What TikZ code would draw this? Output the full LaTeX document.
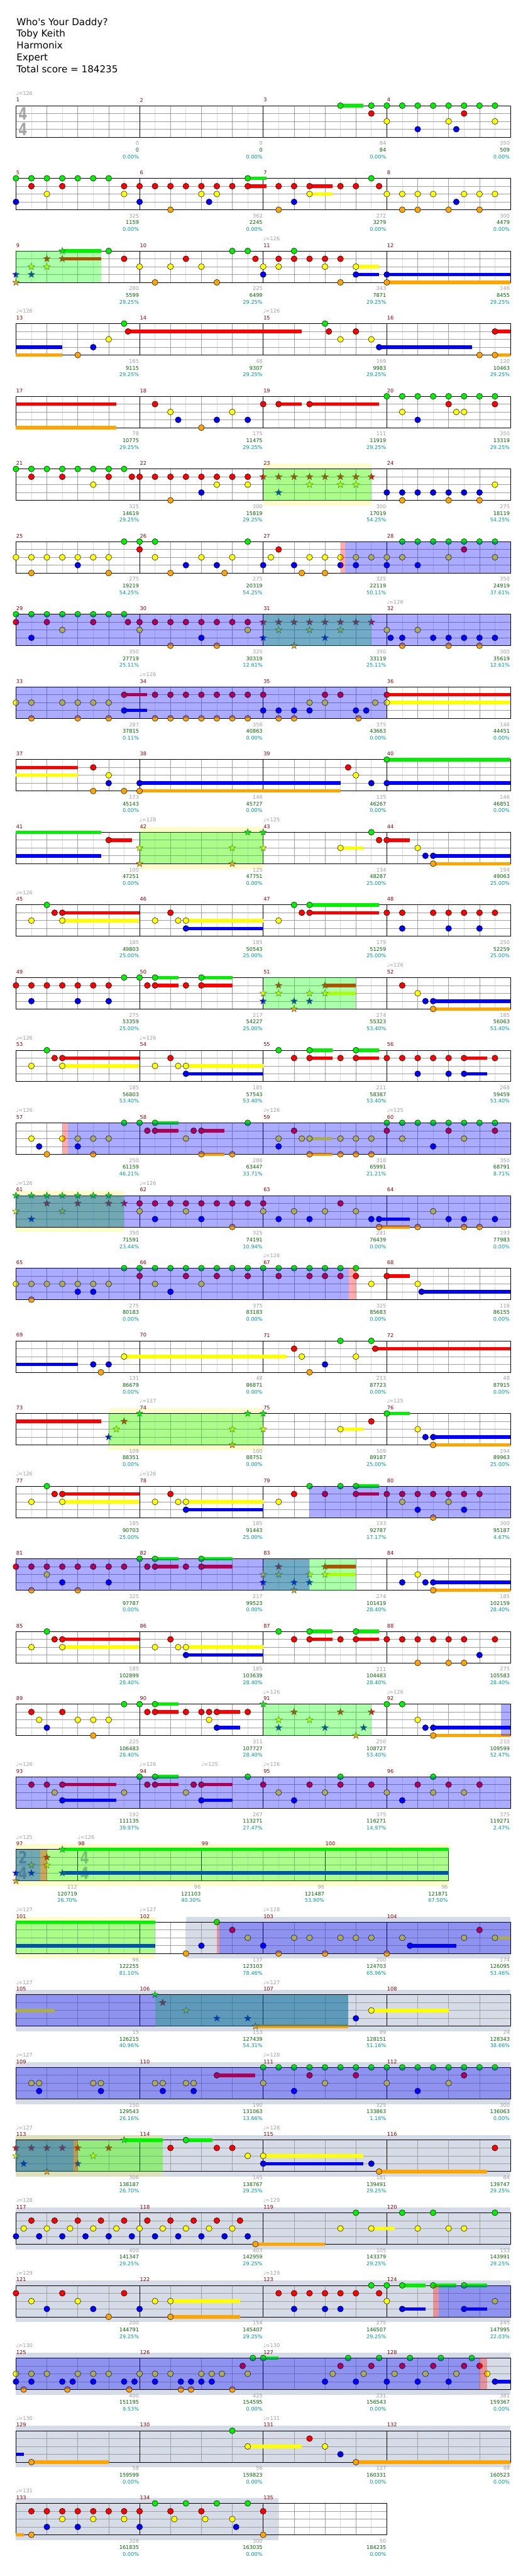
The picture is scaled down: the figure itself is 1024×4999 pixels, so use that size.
\documentclass[tikz,border=0pt]{standalone}
\usepackage{fontspec}
\setmainfont{DejaVu Sans}[Ligatures=TeXOff]
\usetikzlibrary{shapes.geometric}
\definecolor{ln0}{RGB}{0,240,0}
\definecolor{ln1}{RGB}{255,0,0}
\definecolor{ln2}{RGB}{255,255,0}
\definecolor{ln3}{RGB}{0,0,255}
\definecolor{ln4}{RGB}{255,165,0}
\definecolor{mred}{RGB}{139,0,0}
\definecolor{sgray}{RGB}{160,160,160}
\definecolor{sgreen}{RGB}{0,100,0}
\definecolor{steal}{RGB}{0,153,153}
\definecolor{solo}{RGB}{213,220,232}
\definecolor{halfc}{RGB}{220,220,220}
\definecolor{beatc}{RGB}{160,160,160}
\tikzstyle{nt}=[shape=circle, minimum size=11.5pt, inner sep=0, draw=black, line width=.6pt]
\tikzstyle{spn}=[shape=star, star points=5, star point ratio=2.4, minimum size=14pt, inner sep=0, draw=black!70, line width=.5pt]
\tikzstyle{halfl}=[halfc, line width=.8pt]
\tikzstyle{beatl}=[beatc, line width=.8pt]
\tikzstyle{barl}=[black, line width=.9pt]
\tikzstyle{mlab}=[anchor=west, inner sep=0, xshift=.5pt, text=mred, font=\fontsize{10}{12}\selectfont]
\tikzstyle{tlab}=[anchor=west, inner sep=0, text=sgray, font=\fontsize{10}{12}\selectfont]
\tikzstyle{slab}=[anchor=east, inner sep=0, xshift=-1pt, font=\fontsize{10}{12}\selectfont]
\tikzstyle{tsg}=[inner sep=0, text=black!35, xscale=.75, font=\fontsize{33}{33}\selectfont\bfseries]
\tikzstyle{ttl}=[anchor=base west, inner sep=0, font=\fontsize{18.5}{22}\selectfont]
\newcounter{nn}
\newdimen\rowy
\newcommand{\rowat}[1]{\global\rowy=-\numexpr205+141*#1\relax pt}
\newcommand{\staff}[2]{\pgfmathtruncatemacro\se{#1-1}%
 \foreach \i in {1,...,\se}{\ifodd\i\relax \draw[halfl] (\i,0)--(\i,4); \else \draw[beatl] (\i,0)--(\i,4); \fi}%
 \foreach \l in {1,2,3}{\draw[beatl] (0,\l)--(#1,\l);}%
 \foreach \b in {#2}{\draw[barl] (\b,0)--(\b,4);}%
 \draw[barl] (0,0) rectangle (#1,4);}
\newcommand{\nts}[2]{\foreach \p in {#2}{\stepcounter{nn}\node at (\p,#1)[nt, fill=ln#1](n\arabic{nn}){};}}
\newcommand{\sts}[2]{\foreach \p in {#2}{\stepcounter{nn}\node at (\p,#1)[spn, fill=ln#1](s\arabic{nn}){};}}
\newcommand{\susn}[3]{\fill[ln#1] ({#2},{#1-.22}) rectangle ({#3},{#1+.22});}
\newcommand{\spa}[2]{\fill[green, fill opacity=.33] (#1,0) rectangle (#2,4);}
\newcommand{\act}[2]{\fill[blue, fill opacity=.33] (#1,0) rectangle (#2,4);}
\newcommand{\pnk}[2]{\fill[red, fill opacity=.33] (#1,0) rectangle (#2,4);}
\newcommand{\sband}[2]{\fill[solo] (#1,-.66) rectangle (#2,4.66);}
\newcommand{\yband}[2]{\fill[yellow, fill opacity=.2] (#1,-.66) rectangle (#2,4.66);}
\newcommand{\tsig}[3]{\stepcounter{nn}\node at ({#1+.45},1)[tsg](g\arabic{nn}){#2};\node at ({#1+.45},3)[tsg](h\arabic{nn}){#3};}
\newcommand{\mnum}[2]{\stepcounter{nn}\node at (#1,-.72)[mlab](m\arabic{nn}){#2};}
\newcommand{\mnums}[1]{\foreach \k in {0,1,2,3}{\pgfmathtruncatemacro\mm{#1+\k}\mnum{8*\k}{\mm}}}
\newcommand{\bpm}[2]{\stepcounter{nn}\node at (#1,-1.57)[tlab](q\arabic{nn}){♩=#2};}
\newcommand{\scr}[4]{\stepcounter{nn}\node at (#1,4.79)[slab, text=sgray](a\arabic{nn}){#2};\node at (#1,5.64)[slab, text=sgreen](b\arabic{nn}){#3};\node at (#1,6.49)[slab, text=steal](c\arabic{nn}){#4\%};}

\begin{document}
\begin{tikzpicture}[x=1pt,y=-1pt]
\useasboundingbox (0,0) rectangle (1024,4999);
\fill[white] (0,0) rectangle (1024,4999);
\node at (32,49)[ttl](song){Who's Your Daddy?};
\node at (32,72)[ttl](artist){Toby Keith};
\node at (32,95)[ttl](charter){Harmonix};
\node at (32,118)[ttl](diff){Expert};
\node at (32,141)[ttl](total){Total score = 184235};

\rowat{0}
\begin{scope}[shift={(31pt,\rowy)},x=30pt,y=-15.25pt]
\staff{32}{0,8,16,24,32}
\tsig{0}{4}{4}
\susn{0}{21}{22.5}
\nts{0}{21,23,24,25,26,27,28,29,30,31}
\nts{1}{23,29}
\nts{2}{24,28,31}
\nts{3}{26,28.5}
\mnums{1}\bpm{0}{126}
\scr{8}{0}{0}{0.00}\scr{16}{0}{0}{0.00}\scr{24}{84}{84}{0.00}\scr{32}{350}{509}{0.00}
\end{scope}

\rowat{1}
\begin{scope}[shift={(31pt,\rowy)},x=30pt,y=-15.25pt]
\staff{32}{0,8,16,24,32}
\susn{0}{15}{16.2}\susn{1}{15}{16.2}\susn{1}{19}{20.5}\susn{2}{19}{20.5}
\nts{0}{0,1,2,3,4,5,6,15,23}
\nts{1}{1,3,7,8,9,10,11,12,13,14,15,17,18,19,21,22,23.5}
\nts{2}{2,7,12,13,19,24,25,26,27,29,30,31}
\nts{3}{0,8,12.5,18,28.5}
\nts{4}{10,17,25,26,28,30}
\mnums{5}
\scr{8}{325}{1159}{0.00}\scr{16}{362}{2245}{0.00}\scr{24}{272}{3279}{0.00}\scr{32}{300}{4479}{0.00}
\end{scope}

\rowat{2}
\begin{scope}[shift={(31pt,\rowy)},x=30pt,y=-15.25pt]
\staff{32}{0,8,16,24,32}
\susn{0}{3}{5.5}\susn{1}{3}{5.5}\susn{2}{22}{23.5}\susn{3}{22}{23.5}\susn{3}{24}{32}\susn{4}{24}{32}
\sts{0}{3}\sts{1}{2,3}\sts{2}{1,2}\sts{3}{0,1}\sts{4}{0}
\nts{0}{6,14,15,18}
\nts{1}{7,11,15.5,17,18,19,20,21}
\nts{2}{8,10,12,16,17,20,22}
\nts{3}{16,22,24}
\nts{4}{9,13,21,24}
\spa{0}{5.5}
\mnums{9}\bpm{16}{126}
\scr{8}{280}{5599}{29.25}\scr{16}{225}{6499}{29.25}\scr{24}{343}{7871}{29.25}\scr{32}{146}{8455}{29.25}
\end{scope}

\rowat{3}
\begin{scope}[shift={(31pt,\rowy)},x=30pt,y=-15.25pt]
\staff{32}{0,8,16,24,32}
\susn{3}{0}{3}\susn{4}{0}{3}\susn{1}{7.25}{18.5}\susn{3}{23.5}{29.5}\susn{4}{31}{32}\susn{1}{31}{32}
\nts{0}{7,20}
\nts{1}{7.25,20.25,22,31}
\nts{2}{6,21,23}
\nts{3}{5,23.5}
\nts{4}{4,30,31}
\mnums{13}\bpm{0}{126}\bpm{16}{126}
\scr{8}{165}{9115}{29.25}\scr{16}{48}{9307}{29.25}\scr{24}{169}{9983}{29.25}\scr{32}{120}{10463}{29.25}
\end{scope}

\rowat{4}
\begin{scope}[shift={(31pt,\rowy)},x=30pt,y=-15.25pt]
\staff{32}{0,8,16,24,32}
\susn{1}{0}{6.5}\susn{4}{0}{6.5}\susn{1}{17}{18.5}\susn{1}{19}{23.5}
\nts{0}{24,25,26,27,28,29,30,31}
\nts{1}{9,16,17,19,28,31}
\nts{2}{10,14,25,28.5,29}
\nts{3}{10.5,13,15,26}
\nts{4}{12}
\mnums{17}
\scr{8}{78}{10775}{29.25}\scr{16}{175}{11475}{29.25}\scr{24}{111}{11919}{29.25}\scr{32}{350}{13319}{29.25}
\end{scope}

\rowat{5}
\begin{scope}[shift={(31pt,\rowy)},x=30pt,y=-15.25pt]
\yband{16}{23}
\staff{32}{0,8,16,24,32}
\nts{0}{0,1,2,3,4,5,6,7}
\nts{1}{1,3,6,7.5,8,9,10,11,12,13,14,15}\sts{1}{16,17,18,19,20,21,22,23}
\nts{2}{5,13,15,31}\sts{2}{19,21,22}
\nts{3}{12,24,25,26,27,28,29,30}\sts{3}{17}
\nts{4}{10,25,28,30}
\spa{16}{23}
\mnums{21}
\scr{8}{325}{14619}{29.25}\scr{16}{300}{15819}{29.25}\scr{24}{300}{17019}{54.25}\scr{32}{275}{18119}{54.25}
\end{scope}

\rowat{6}
\begin{scope}[shift={(31pt,\rowy)},x=30pt,y=-15.25pt]
\staff{32}{0,8,16,24,32}
\nts{0}{7,8,9,15,25,26,27,28,29,30,31}
\nts{1}{8,17,29}
\nts{2}{0,1,2,3,4,5,6,9,12,14,16.5,19,20,21,22,23,24,25,28,31}
\nts{3}{4,11,13,16,18,21,22,24,26}
\nts{4}{1,6,10,13.5,18.5,20}
\pnk{21}{21.3}\act{21.3}{32}
\mnums{25}
\scr{8}{275}{19219}{54.25}\scr{16}{275}{20319}{54.25}\scr{24}{325}{22119}{50.11}\scr{32}{350}{24919}{37.61}
\end{scope}

\rowat{7}
\begin{scope}[shift={(31pt,\rowy)},x=30pt,y=-15.25pt]
\staff{32}{0,8,16,24,32}
\nts{0}{0,1,2,3,4,5,6,7}
\nts{1}{0,2,5,7.25,8,9,10,11,12,13,14,15}\sts{1}{16,17,18,19,20,21,22,23}
\nts{2}{3,8,15,24,26}\sts{2}{17,19,21}
\nts{3}{1,12,24.25,25,27,28,29,30,31}\sts{3}{16,20}
\nts{4}{10,13,25,28,30}\sts{4}{18}
\spa{16}{23}\act{0}{32}
\mnums{29}\bpm{24}{126}
\scr{8}{350}{27719}{25.11}\scr{16}{325}{30319}{12.61}\scr{24}{350}{33119}{25.11}\scr{32}{300}{35619}{12.61}
\end{scope}

\rowat{8}
\begin{scope}[shift={(31pt,\rowy)},x=30pt,y=-15.25pt]
\staff{32}{0,8,16,24,32}
\susn{1}{7}{8.5}\susn{3}{7}{8.5}\susn{1}{24}{32}\susn{2}{24}{32}
\nts{1}{7,9,10,11,12,13,14,15,16,20,21,24}
\nts{2}{0,1,3,4,5,6,19,20,23.25,24}
\nts{3}{7,16,17,18,19,22,22.67}
\nts{4}{1,4,6,9,10,11,12,13,14,15,17,18,22.17}
\act{0}{24}
\mnums{33}\bpm{8}{126}
\scr{8}{287}{37815}{0.11}\scr{16}{356}{40863}{0.00}\scr{24}{375}{43663}{0.00}\scr{32}{146}{44451}{0.00}
\end{scope}

\rowat{9}
\begin{scope}[shift={(31pt,\rowy)},x=30pt,y=-15.25pt]
\staff{32}{0,8,16,24,32}
\susn{1}{0}{4}\susn{2}{0}{4}\susn{4}{8}{21}\susn{3}{8}{21}\susn{0}{24}{32}\susn{3}{24}{32}
\nts{0}{24}
\nts{1}{5,21.5}
\nts{2}{6,22}
\nts{3}{6,8,23,24}
\nts{4}{5,7,8}
\mnums{37}
\scr{8}{173}{45143}{0.00}\scr{16}{146}{45727}{0.00}\scr{24}{135}{46267}{0.00}\scr{32}{146}{46851}{0.00}
\end{scope}

\rowat{10}
\begin{scope}[shift={(31pt,\rowy)},x=30pt,y=-15.25pt]
\yband{8}{16}
\staff{32}{0,8,16,24,32}
\susn{0}{0}{5.5}\susn{3}{0}{5.5}\susn{1}{6}{7.5}\susn{2}{21}{22.5}\susn{1}{24}{25.5}\susn{3}{27}{32}\susn{4}{27}{32}
\sts{0}{15,16}\sts{2}{8,14,16}\sts{4}{8,14}
\nts{0}{23}
\nts{1}{6,23.5,24}
\nts{2}{21,26}
\nts{3}{26.5,27}
\nts{4}{27}
\spa{8}{16}
\mnums{41}\bpm{8}{128}\bpm{16}{125}
\scr{8}{100}{47251}{0.00}\scr{16}{125}{47751}{0.00}\scr{24}{134}{48287}{25.00}\scr{32}{194}{49063}{25.00}
\end{scope}

\rowat{11}
\begin{scope}[shift={(31pt,\rowy)},x=30pt,y=-15.25pt]
\staff{32}{0,8,16,24,32}
\susn{1}{3}{8}\susn{2}{3}{8}\susn{2}{11}{16}\susn{3}{11}{16}\susn{0}{19}{23.5}\susn{1}{19}{23.5}
\nts{0}{2,18,19}
\nts{1}{2.5,3,10,18.5,19,24,25,27,28,29,30,31}
\nts{2}{1,3,9,10.5,11,17}
\nts{3}{11,25,28,30}
\mnums{45}\bpm{0}{126}
\scr{8}{185}{49803}{25.00}\scr{16}{185}{50543}{25.00}\scr{24}{179}{51259}{25.00}\scr{32}{250}{52259}{25.00}
\end{scope}

\rowat{12}
\begin{scope}[shift={(31pt,\rowy)},x=30pt,y=-15.25pt]
\staff{32}{0,8,16,24,32}
\susn{0}{9}{10.5}\susn{0}{12}{14}\susn{1}{9}{10.5}\susn{1}{12}{14}\susn{1}{20}{22}\susn{2}{20}{22}\susn{3}{27}{32}\susn{4}{27}{32}
\nts{0}{7,8,9,12}
\nts{1}{0,1,2,3,4,5,6,8.5,9,11,12,25}\sts{1}{17,20}
\nts{2}{26}\sts{2}{16,17,19,20}
\nts{3}{1,4,6,26.5,27}\sts{3}{16,18,19}
\nts{4}{27}\sts{4}{18}
\spa{16}{22}
\mnums{49}\bpm{24}{126}
\scr{8}{275}{53359}{25.00}\scr{16}{217}{54227}{25.00}\scr{24}{274}{55323}{53.40}\scr{32}{185}{56063}{53.40}
\end{scope}

\rowat{13}
\begin{scope}[shift={(31pt,\rowy)},x=30pt,y=-15.25pt]
\staff{32}{0,8,16,24,32}
\susn{1}{3}{8}\susn{2}{3}{8}\susn{2}{11}{16}\susn{3}{11}{16}\susn{0}{19}{20.5}\susn{0}{22}{23.5}\susn{1}{19}{20.5}\susn{1}{22}{23.5}\susn{1}{29}{30.5}\susn{3}{29}{30.5}
\nts{0}{2,17,19,22}
\nts{1}{2.5,3,10,18,19,21,22,24,25,26,27,28,29,31}
\nts{2}{1,3,9,10.5,11}
\nts{3}{11,26,28,29}
\mnums{53}\bpm{0}{126}\bpm{8}{126}
\scr{8}{185}{56803}{53.40}\scr{16}{185}{57543}{53.40}\scr{24}{211}{58387}{53.40}\scr{32}{268}{59459}{53.40}
\end{scope}

\rowat{14}
\begin{scope}[shift={(31pt,\rowy)},x=30pt,y=-15.25pt]
\staff{32}{0,8,16,24,32}
\susn{0}{9}{10.5}\susn{1}{9}{10.5}\susn{1}{12}{13.5}\susn{4}{12}{13.5}\susn{2}{19}{20.5}\susn{4}{19}{20.5}
\nts{0}{7,8,9,15,24,25,26,27,28,29,30,31}
\nts{1}{8.5,9,11.5,12,18,24,28,31}
\nts{2}{1,3,4,5,6,11,17,18.5,19,21,22,23,25,29}
\nts{3}{1.5,4,17,27}
\nts{4}{2,5,12,14,19,21,22,23}
\pnk{3}{3.35}\act{3.35}{32}
\mnums{57}\bpm{0}{126}\bpm{16}{126}\bpm{24}{125}
\scr{8}{250}{61159}{46.21}\scr{16}{286}{63447}{33.71}\scr{24}{318}{65991}{21.21}\scr{32}{350}{68791}{8.71}
\end{scope}

\rowat{15}
\begin{scope}[shift={(31pt,\rowy)},x=30pt,y=-15.25pt]
\yband{0}{7}
\staff{32}{0,8,16,24,32}
\susn{3}{23.5}{25.5}\susn{4}{23.5}{25.5}
\sts{0}{0,1,2,3,4,5,6}\sts{1}{2,4,6,7}\sts{2}{0,3}\sts{3}{1}
\nts{1}{8,9,10,11,12,13,14,15,16,21}
\nts{2}{8,11,16,18,20,22,27}
\nts{3}{9,12,17,19,23,23.5,28,29,31}
\nts{4}{14,23.5,26,29,30}
\spa{0}{7}\act{0}{32}
\mnums{61}\bpm{0}{126}\bpm{8}{126}
\scr{8}{350}{71591}{23.44}\scr{16}{325}{74191}{10.94}\scr{24}{281}{76439}{0.00}\scr{32}{193}{77983}{0.00}
\end{scope}

\rowat{16}
\begin{scope}[shift={(31pt,\rowy)},x=30pt,y=-15.25pt]
\staff{32}{0,8,16,24,32}
\susn{1}{24}{25.5}\susn{3}{26.25}{32}
\nts{0}{7,...,22}
\nts{1}{8,11,13,15,17,19,20,21,22,24}
\nts{2}{0,1,2,3,4,5,6,9,12,23,26}
\nts{3}{4,5,10,26.25}
\nts{4}{1}
\act{0}{21.55}\pnk{21.55}{22}
\mnums{65}\bpm{16}{126}
\scr{8}{275}{80183}{0.00}\scr{16}{375}{83183}{0.00}\scr{24}{325}{85683}{0.00}\scr{32}{118}{86155}{0.00}
\end{scope}

\rowat{17}
\begin{scope}[shift={(31pt,\rowy)},x=30pt,y=-15.25pt]
\staff{32}{0,8,16,24,32}
\susn{3}{0}{4}\susn{2}{7}{17.5}\susn{1}{23.25}{32}
\nts{0}{21,23}
\nts{1}{18,23.25}
\nts{2}{7,18.5,22}
\nts{3}{5,6,20}
\nts{4}{5.5,19}
\mnums{69}
\scr{8}{131}{86679}{0.00}\scr{16}{48}{86871}{0.00}\scr{24}{213}{87723}{0.00}\scr{32}{48}{87915}{0.00}
\end{scope}

\rowat{18}
\begin{scope}[shift={(31pt,\rowy)},x=30pt,y=-15.25pt]
\yband{6}{16}
\staff{32}{0,8,16,24,32}
\susn{1}{0}{5.5}\susn{2}{21}{22.5}\susn{0}{24}{25.5}\susn{3}{27}{32}\susn{4}{27}{32}
\sts{3}{6}\sts{2}{6.5,14,16}\sts{1}{7}\sts{0}{8,15,16}\sts{4}{14}
\nts{0}{24}
\nts{1}{23}
\nts{2}{21,26}
\nts{3}{26.5,27}
\nts{4}{27}
\spa{6}{16}
\mnums{73}\bpm{8}{127}\bpm{24}{125}
\scr{8}{109}{88351}{0.00}\scr{16}{100}{88751}{0.00}\scr{24}{109}{89187}{25.00}\scr{32}{194}{89963}{25.00}
\end{scope}

\rowat{19}
\begin{scope}[shift={(31pt,\rowy)},x=30pt,y=-15.25pt]
\staff{32}{0,8,16,24,32}
\susn{1}{3}{8}\susn{2}{3}{8}\susn{2}{11}{16}\susn{3}{11}{16}\susn{0}{22}{23.5}\susn{1}{22}{23.5}
\nts{0}{2,19,21,22}
\nts{1}{2.5,3,10,18,20,22,24,25,26,27,28,29,30}
\nts{2}{1,3,9,10.5,11,17,25,28}
\nts{3}{11,26,29}
\nts{4}{27}
\act{19}{32}
\mnums{77}\bpm{0}{126}\bpm{8}{126}
\scr{8}{185}{90703}{25.00}\scr{16}{185}{91443}{25.00}\scr{24}{193}{92787}{17.17}\scr{32}{300}{95187}{4.67}
\end{scope}

\rowat{20}
\begin{scope}[shift={(31pt,\rowy)},x=30pt,y=-15.25pt]
\staff{32}{0,8,16,24,32}
\susn{0}{9}{10.5}\susn{0}{12}{14}\susn{1}{9}{10.5}\susn{1}{12}{14}\susn{1}{20}{22}\susn{2}{20}{22}\susn{3}{27}{32}\susn{4}{27}{32}
\nts{0}{8,9,12}
\nts{1}{0,1,2,3,4,5,6,7,8.5,9,11,12}\sts{1}{17,20}
\nts{2}{2,26}\sts{2}{16,17,19,20}
\nts{3}{3,6,25,26.5,27}\sts{3}{16,18,19}
\nts{4}{1,4,27}\sts{4}{18}
\spa{16}{22}\act{0}{19}
\mnums{81}
\scr{8}{325}{97787}{0.00}\scr{16}{217}{99523}{0.00}\scr{24}{274}{101419}{28.40}\scr{32}{185}{102159}{28.40}
\end{scope}

\rowat{21}
\begin{scope}[shift={(31pt,\rowy)},x=30pt,y=-15.25pt]
\staff{32}{0,8,16,24,32}
\susn{1}{3}{8}\susn{2}{3}{8}\susn{2}{11}{16}\susn{3}{11}{16}\susn{0}{19}{20.5}\susn{0}{22}{23.5}\susn{1}{19}{20.5}\susn{1}{22}{23.5}
\nts{0}{2,17,19,22}
\nts{1}{2.5,3,10,18,19,21,22,24,25,26,27,28,29,31}
\nts{2}{1,3,9,10.5,11}
\nts{3}{11,30}
\nts{4}{26,28,29}
\mnums{85}
\scr{8}{185}{102899}{28.40}\scr{16}{185}{103639}{28.40}\scr{24}{211}{104483}{28.40}\scr{32}{275}{105583}{28.40}
\end{scope}

\rowat{22}
\begin{scope}[shift={(31pt,\rowy)},x=30pt,y=-15.25pt]
\staff{32}{0,8,16,24,32}
\susn{0}{9}{10.5}\susn{1}{9}{10.5}\susn{1}{13}{14.5}\susn{3}{13}{14.5}\susn{3}{27}{32}\susn{4}{27}{32}
\nts{0}{7,8,9,24,25}\sts{0}{16}
\nts{1}{1,3,8.5,9,11,12,12.5,13,15}\sts{1}{18,21,23}
\nts{2}{1.5,4,5,6,12.5,26}\sts{2}{17,19}
\nts{3}{2,13,26.5,27}\sts{3}{17,20,22.5}
\nts{4}{5,27}\sts{4}{22}
\spa{16}{23}\act{31.4}{32}
\mnums{89}\bpm{16}{126}\bpm{24}{126}
\scr{8}{225}{106483}{28.40}\scr{16}{311}{107727}{28.40}\scr{24}{250}{108727}{53.40}\scr{32}{210}{109599}{52.47}
\end{scope}

\rowat{23}
\begin{scope}[shift={(31pt,\rowy)},x=30pt,y=-15.25pt]
\staff{32}{0,8,16,24,32}
\susn{1}{3}{6.5}\susn{3}{3}{6.5}\susn{0}{9}{10.5}\susn{1}{9}{10.5}\susn{1}{12}{14}\susn{3}{12}{14}
\nts{0}{8,9,15,...,31}
\nts{1}{1,2,3,8.5,9,11.5,12,16,19,21,23,26,28,30}
\nts{2}{2.5,7,11,17,20,24,27,29}
\nts{3}{3,12,18,25}
\act{0}{32}
\mnums{93}\bpm{0}{126}\bpm{8}{126}\bpm{12}{125}\bpm{16}{126}
\scr{8}{192}{111135}{39.97}\scr{16}{267}{113271}{27.47}\scr{24}{375}{116271}{14.97}\scr{32}{375}{119271}{2.47}
\end{scope}

\rowat{24}
\begin{scope}[shift={(31pt,\rowy)},x=30pt,y=-15.25pt]
\yband{0}{28}
\staff{28}{0,4,12,20,28}
\tsig{0}{2}{4}\tsig{4}{4}{4}
\susn{0}{3}{28}\susn{3}{3}{28}
\sts{0}{3}\sts{1}{2}\sts{2}{1,2}\sts{3}{0,1,3}\sts{4}{0}
\spa{0}{28}\act{0}{1.55}\pnk{1.55}{2}
\mnum{0}{97}\mnum{4}{98}\mnum{12}{99}\mnum{20}{100}
\bpm{0}{125}\bpm{4}{126}
\scr{4}{212}{120719}{26.70}\scr{12}{96}{121103}{40.30}\scr{20}{96}{121487}{53.90}\scr{28}{96}{121871}{67.50}
\end{scope}

\rowat{25}
\begin{scope}[shift={(31pt,\rowy)},x=30pt,y=-15.25pt]
\sband{11}{32}\yband{0}{9}
\staff{32}{0,8,16,24,32}
\susn{0}{0}{9}\susn{3}{0}{9}\susn{3}{25.5}{28.5}\susn{2}{31}{32}
\nts{0}{13}
\nts{1}{14,30}
\nts{2}{15,18,19,21,22,23,25,29,31}
\nts{3}{12,16,25.5}
\nts{4}{11,17,20,24}
\spa{0}{9}\pnk{13}{13.17}\act{13.17}{32}
\mnums{101}\bpm{0}{127}\bpm{8}{127}\bpm{16}{128}
\scr{8}{96}{122255}{81.10}\scr{16}{137}{123103}{78.46}\scr{24}{200}{124703}{65.96}\scr{32}{174}{126095}{53.46}
\end{scope}

\rowat{26}
\begin{scope}[shift={(31pt,\rowy)},x=30pt,y=-15.25pt]
\sband{0}{32}
\staff{32}{0,8,16,24,32}
\susn{2}{0}{2.5}\susn{4}{15.5}{21.5}\susn{2}{23}{28}
\sts{0}{9}\sts{1}{9.5}\sts{2}{11}\sts{3}{13,15}\sts{4}{15.5}
\nts{2}{23}
\nts{3}{22}
\spa{9}{21.5}\act{0}{21.5}
\mnums{105}\bpm{0}{127}\bpm{16}{127}
\scr{8}{15}{126215}{40.96}\scr{16}{153}{127439}{54.31}\scr{24}{89}{128151}{51.16}\scr{32}{24}{128343}{38.66}
\end{scope}

\rowat{27}
\begin{scope}[shift={(31pt,\rowy)},x=30pt,y=-15.25pt]
\sband{0}{32}
\staff{32}{0,8,16,24,32}
\susn{1}{13}{15.5}
\nts{0}{16,...,31}
\nts{1}{13,19,22,29}
\nts{2}{1,1.5,5,5.5,9,9.5,11,11.5,16,20,24,28}
\nts{3}{1.5,5.5,9.5,11.5,18,26}
\act{0}{32}
\mnums{109}\bpm{0}{127}\bpm{16}{128}
\scr{8}{150}{129543}{26.16}\scr{16}{190}{131063}{13.66}\scr{24}{325}{133863}{1.16}\scr{32}{300}{136063}{0.00}
\end{scope}

\rowat{28}
\begin{scope}[shift={(31pt,\rowy)},x=30pt,y=-15.25pt]
\sband{0}{32}\yband{0}{9.5}
\staff{32}{0,8,16,24,32}
\susn{0}{7}{9.5}\susn{0}{11}{12.7}\susn{2}{16}{22.5}\susn{3}{16}{22.5}\susn{4}{23.5}{30.5}
\sts{0}{7}\sts{1}{0,1,2,3,4,6}\sts{2}{0,5}\sts{3}{0.5,4}\sts{4}{2}
\nts{0}{11}
\nts{1}{10,13,14,31}
\nts{2}{15,16}
\nts{3}{16,23}
\nts{4}{23.5}
\spa{0}{9.5}\act{0}{3.72}\pnk{3.72}{4}
\mnums{113}\bpm{0}{127}\bpm{16}{128}
\scr{8}{306}{138187}{26.70}\scr{16}{145}{138767}{29.25}\scr{24}{181}{139491}{29.25}\scr{32}{64}{139747}{29.25}
\end{scope}

\rowat{29}
\begin{scope}[shift={(31pt,\rowy)},x=30pt,y=-15.25pt]
\sband{0}{32}
\staff{32}{0,8,16,24,32}
\susn{4}{15.5}{20}\susn{2}{23}{24.5}
\nts{0}{22,25,27,31}
\nts{1}{1,2.5,4,5.5,7,8.5,10,11.5,13,14.5}
\nts{2}{0.5,2,3.5,5,6.5,8,9.5,11,12.5,14,21,23,26,28,29}
\nts{3}{0,1.5,3,4.5,6,7.5,9,10.5,12,13.5,15}
\nts{4}{15.5}
\mnums{117}\bpm{0}{128}\bpm{16}{129}
\scr{8}{400}{141347}{29.25}\scr{16}{403}{142959}{29.25}\scr{24}{105}{143379}{29.25}\scr{32}{153}{143991}{29.25}
\end{scope}

\rowat{30}
\begin{scope}[shift={(31pt,\rowy)},x=30pt,y=-15.25pt]
\sband{0}{32}
\staff{32}{0,8,16,24,32}
\susn{2}{10}{14.5}\susn{4}{10}{14.5}\susn{0}{25}{26.5}\susn{0}{27}{28.5}\susn{0}{29}{30.5}\susn{3}{25}{26.5}\susn{3}{29}{30.5}
\nts{0}{23,24,25,27,29}
\nts{1}{0,3,7,17,18,19,20,21,22,23.5}
\nts{2}{1,4,9,10,24,31}
\nts{3}{2,5,8,18,20,21,25,29}
\nts{4}{6,10}
\pnk{27}{27.37}\act{27.37}{32}
\mnums{121}\bpm{0}{129}\bpm{16}{129}
\scr{8}{200}{144791}{29.25}\scr{16}{154}{145407}{29.25}\scr{24}{275}{146507}{29.25}\scr{32}{245}{147995}{22.03}
\end{scope}

\rowat{31}
\begin{scope}[shift={(31pt,\rowy)},x=30pt,y=-15.25pt]
\sband{0}{32}
\staff{32}{0,8,16,24,32}
\susn{0}{16}{17}\susn{3}{31}{32}
\nts{0}{15.33,16,21.5,23.5,25.5,27.5,29.5}
\nts{1}{14.67,21,23,25,27,29,30}
\nts{2}{0,1,2,4,5,6,8,9,10,12,12.67,13.33,15,20.5,22.5,24.5,26.5,28.5,30.5}
\nts{3}{0,1,3,3.67,5,7,7.67,9,10.67,11.33,12,12.67,20,22,24,26,28,31}
\nts{4}{0.5,3.33,7.33,10.67,11.33,14}
\act{0}{30}\pnk{30}{30.5}
\mnums{125}\bpm{0}{130}\bpm{16}{130}
\scr{8}{400}{151195}{9.53}\scr{16}{425}{154595}{0.00}\scr{24}{231}{156543}{0.00}\scr{32}{381}{159367}{0.00}
\end{scope}

\rowat{32}
\begin{scope}[shift={(31pt,\rowy)},x=30pt,y=-15.25pt]
\sband{0}{32}
\staff{32}{0,8,16,24,32}
\susn{3}{0}{0.5}\susn{4}{1}{6}\susn{2}{15}{18.5}\susn{4}{22}{32}
\nts{0}{14}
\nts{1}{19}
\nts{2}{15,20}
\nts{3}{21}
\nts{4}{1,22}
\mnums{129}\bpm{0}{130}\bpm{16}{131}
\scr{8}{58}{159599}{0.00}\scr{16}{56}{159823}{0.00}\scr{24}{127}{160331}{0.00}\scr{32}{48}{160523}{0.00}
\end{scope}

\rowat{33}
\begin{scope}[shift={(31pt,\rowy)},x=30pt,y=-15.25pt]
\sband{0}{17}
\staff{24}{0,8,16,24}
\susn{4}{0}{0.5}
\nts{0}{9,11,13,15}
\nts{1}{1,2,3,4,5,6,7,8,10,12,16}
\nts{2}{3,5,7,10.25,12.25,14}
\nts{3}{2,4,8,14.25}
\nts{4}{1,16}
\mnum{0}{133}\mnum{8}{134}\mnum{16}{135}
\bpm{0}{131}
\scr{8}{328}{161835}{0.00}\scr{16}{300}{163035}{0.00}\scr{24}{50}{184235}{0.00}
\end{scope}
\end{tikzpicture}
\end{document}
